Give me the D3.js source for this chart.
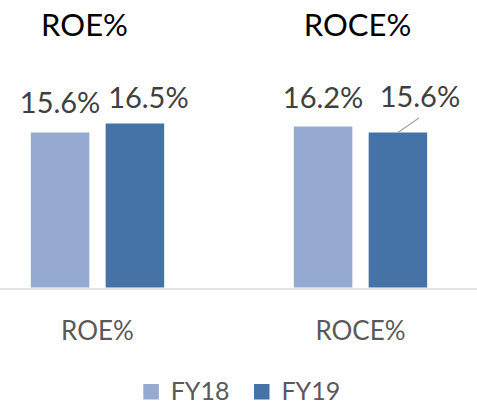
<!DOCTYPE html>
<html>
<head>
<meta charset="utf-8">
<script src="https://cdn.jsdelivr.net/npm/d3@7"></script>
<style>
  html, body { margin: 0; padding: 0; background: #fff; }
  svg { display: block; }
  text { font-family: Lato, "Open Sans", sans-serif; }
</style>
</head>
<body>
<svg id="chart" width="477" height="404"></svg>
<script>
// Return ratios by financial year
const categories = ["ROE%", "ROCE%"];
const seriesNames = ["FY18", "FY19"];
const fy18 = [15.6, 16.2];
const fy19 = [16.5, 15.6];
const seriesColors = ["#95a9d1", "#4572a7"];

const W = 477, H = 404;
const svg = d3.select("#chart");

// Layout of the plot
const baseY = 288.5;
const x0 = d3.scaleBand()
  .domain(categories)
  .range([-34, 492])
  .paddingInner(0.493)
  .paddingOuter(0.2465);
const x1 = d3.scaleBand()
  .domain(seriesNames)
  .range([0, x0.bandwidth()])
  .paddingInner(0.218);
const y = d3.scaleLinear().domain([0, 25]).range([baseY, baseY - 250]);

const rows = categories.map((c, i) => ({
  category: c,
  values: [
    { series: seriesNames[0], value: fy18[i] },
    { series: seriesNames[1], value: fy19[i] }
  ]
}));

// Panel titles above each group
const titles = svg.append("g");
titles.selectAll("text").data(categories).join("text")
  .attr("x", (d, i) => x0(d) + x0.bandwidth() / 2 + (i === 0 ? -13 : -3))
  .attr("y", 35.7)
  .attr("text-anchor", "middle")
  .attr("font-size", 31)
  .attr("fill", "#000")
  .text(d => d);

// Bars
const groups = svg.append("g").selectAll("g").data(rows).join("g")
  .attr("transform", d => `translate(${x0(d.category)},0)`);

groups.selectAll("rect").data(d => d.values).join("rect")
  .attr("x", d => x1(d.series))
  .attr("width", x1.bandwidth())
  .attr("y", d => y(d.value))
  .attr("height", d => y(0) - y(d.value) - 1)
  .attr("fill", (d, i) => seriesColors[i]);

// Category axis line
const axis = svg.append("g").attr("transform", `translate(0,${baseY})`)
  .call(d3.axisBottom(x0).tickSize(0).tickPadding(0));
axis.select(".domain").attr("d", `M0,0.5H${W}`).attr("stroke", "#d9d9d9").attr("stroke-width", 1.6);
axis.selectAll(".tick text")
  .attr("dy", 0)
  .attr("y", 51)
  .attr("font-size", 26)
  .attr("font-family", "Lato, 'Open Sans', sans-serif")
  .attr("fill", "#595959");

// Value labels, nudged to avoid overlapping neighbours
const nudges = [[0, 13.5], [0, 22]];
const lift = [[20, 16], [19, 26]];
groups.each(function (row, ci) {
  const g = d3.select(this);
  row.values.forEach((v, si) => {
    const cx = x1(v.series) + x1.bandwidth() / 2;
    const lx = cx + nudges[ci][si];
    const ly = y(v.value) - lift[ci][si];
    if (ci === 1 && si === 1) {
      g.append("line")
        .attr("x1", cx).attr("y1", y(v.value))
        .attr("x2", cx + 21).attr("y2", y(v.value) - 14.5)
        .attr("stroke", "#a6a6a6").attr("stroke-width", 1.3);
    }
    g.append("text")
      .attr("x", lx)
      .attr("y", ly)
      .attr("text-anchor", "middle")
      .attr("font-size", 29)
      .attr("fill", "#404040")
      .text(v.value.toFixed(1) + "%");
  });
});

// Legend
const legend = svg.append("g").attr("transform", "translate(143.3,384)");
const item = legend.selectAll("g").data(seriesNames).join("g")
  .attr("transform", (d, i) => `translate(${i * 110.7},0)`);
item.append("rect").attr("width", 15.5).attr("height", 15.5)
  .attr("fill", (d, i) => seriesColors[i]);
item.append("text").attr("x", 27.4).attr("y", 16.2)
  .attr("font-size", 25)
  .attr("fill", "#595959")
  .text(d => d);
</script>
</body>
</html>
